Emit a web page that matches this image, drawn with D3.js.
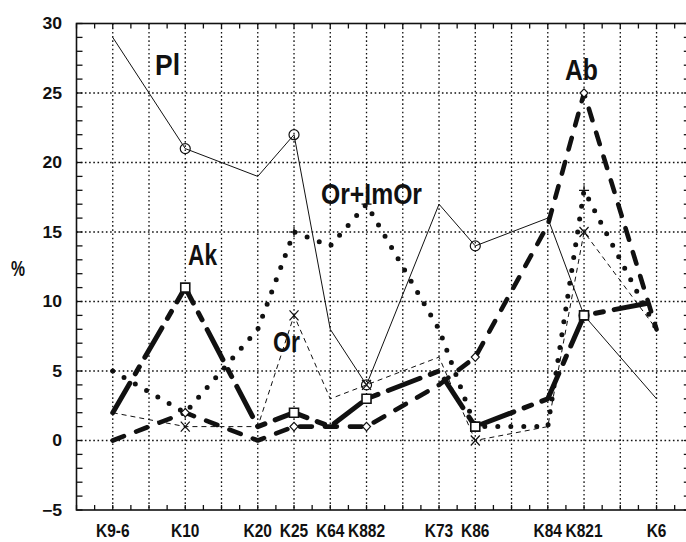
<!DOCTYPE html>
<html>
<head>
<meta charset="utf-8">
<script src="https://cdn.jsdelivr.net/npm/d3@7"></script>
<style>
  body { margin: 0; background: #fff; }
  svg { display: block; }
  text { font-family: "Liberation Sans", Arial, sans-serif; font-weight: bold; fill: #111; }
</style>
</head>
<body>
<div id="chart"></div>
<script>
// samples along the section and where they sit on the x axis
const categories = ["K9-6", "K10", "K20", "K25", "K64", "K882", "K73", "K86", "K84", "K821", "K6"];
const positions = [1, 3, 5, 6, 7, 8, 10, 11, 13, 14, 16];

// mineral content (%) per sample
const plValues = [29, 21, 19, 22, 8, 4, 17, 14, 16, 9, 3];
const akValues = [2, 11, 1, 2, 1, 3, 5, 1, 3, 9, 10];
const abValues = [0, 2, 0, 1, 1, 1, 4, 6, 15.5, 25, 8];
const orValues = [2, 1, 1, 9, 3, 4, 6, 0, 1, 15, 8];
const orImOrValues = [5, 2, 8, 15, 14, 17, 8, 1, 1, 18, 8];

// samples that carry a point marker
const markedSamples = ["K10", "K25", "K882", "K86", "K821"];

const yTicks = [-5, 0, 5, 10, 15, 20, 25, 30];

const width = 686;
const height = 542;

const svg = d3.select("#chart")
  .append("svg")
  .attr("width", width)
  .attr("height", height);

// scales
const x = d3.scaleLinear().domain([0, 17]).range([76.5, 692.8]);
const y = d3.scaleLinear().domain([-5, 30]).range([510, 23.5]);

const ink = "#111";

// dotted grid
const grid = svg.append("g")
  .attr("stroke", ink)
  .attr("stroke-width", 1.3)
  .attr("stroke-dasharray", "1.6,2.6");

grid.selectAll("line.v")
  .data(d3.range(1, 17))
  .enter().append("line")
  .attr("class", "v")
  .attr("x1", d => x(d)).attr("x2", d => x(d))
  .attr("y1", y(30)).attr("y2", y(-5));

grid.selectAll("line.h")
  .data(yTicks.filter(d => d > -5 && d < 30))
  .enter().append("line")
  .attr("class", "h")
  .attr("x1", x(0)).attr("x2", x(17))
  .attr("y1", d => y(d)).attr("y2", d => y(d));

// frame
svg.append("rect")
  .attr("x", x(0)).attr("y", y(30))
  .attr("width", x(17) - x(0)).attr("height", y(-5) - y(30))
  .attr("fill", "none")
  .attr("stroke", ink)
  .attr("stroke-width", 1.6);

// small inward ticks
const ticks = svg.append("g").attr("stroke", ink).attr("stroke-width", 1.3);
const unitTicks = d3.range(-5, 31);
const halfTicks = d3.range(0, 17.01, 0.5);

ticks.selectAll("line.l").data(unitTicks).enter().append("line")
  .attr("x1", x(0)).attr("x2", x(0) + 6)
  .attr("y1", d => y(d)).attr("y2", d => y(d));

ticks.selectAll("line.r").data(unitTicks).enter().append("line")
  .attr("x1", x(17)).attr("x2", x(17) - 9)
  .attr("y1", d => y(d)).attr("y2", d => y(d));

ticks.selectAll("line.b").data(halfTicks).enter().append("line")
  .attr("x1", d => x(d)).attr("x2", d => x(d))
  .attr("y1", y(-5)).attr("y2", y(-5) - 5);

ticks.selectAll("line.t").data(halfTicks).enter().append("line")
  .attr("x1", d => x(d)).attr("x2", d => x(d))
  .attr("y1", y(30)).attr("y2", y(30) + 5);

// squeeze a text to a share of its natural width
function squeeze(sel, factor) {
  sel.each(function() {
    const len = this.getComputedTextLength();
    d3.select(this).attr("textLength", len * factor).attr("lengthAdjust", "spacingAndGlyphs");
  });
}

// y tick labels
svg.append("g").selectAll("text")
  .data(yTicks)
  .enter().append("text")
  .attr("x", 62)
  .attr("y", d => y(d))
  .attr("dy", "0.36em")
  .attr("text-anchor", "end")
  .style("font-size", "16px")
  .text(d3.format("d"))
  .call(squeeze, 1.1);

// x labels
svg.append("g").selectAll("text")
  .data(categories)
  .enter().append("text")
  .attr("x", (d, i) => x(positions[i]))
  .attr("y", 537)
  .attr("text-anchor", "middle")
  .style("font-size", "18px")
  .text(d => d)
  .call(squeeze, 0.86);

// unit label
svg.append("text")
  .attr("x", 11).attr("y", 276)
  .style("font-size", "22px")
  .attr("textLength", 14).attr("lengthAdjust", "spacingAndGlyphs")
  .text("%");

// series styles
const series = [
  {name: "Pl", values: plValues, width: 1, dash: null, cap: "butt", marker: "circle"},
  {name: "Or", values: orValues, width: 1, dash: "5,4", cap: "butt", marker: "times"},
  {name: "Or+ImOr", values: orImOrValues, width: 5, dash: "0,13", cap: "round", marker: "plus"},
  {name: "Ab", values: abValues, width: 4.6, dash: "12,13", cap: "round", marker: "diamond"},
  {name: "Ak", values: akValues, width: 5, dash: "34,11,8,11", cap: "round", marker: "square"}
];

const line = d3.line()
  .x((d, i) => x(positions[i]))
  .y(d => y(d));

svg.append("g").selectAll("path")
  .data(series)
  .enter().append("path")
  .attr("d", d => line(d.values))
  .attr("fill", "none")
  .attr("stroke", ink)
  .attr("stroke-width", d => d.width)
  .attr("stroke-dasharray", d => d.dash)
  .attr("stroke-linecap", d => d.cap)
  .attr("stroke-linejoin", "round");

// marker shapes around (0,0)
function markerPath(type) {
  const p = d3.path();
  if (type === "circle") {
    p.moveTo(5, 0); p.arc(0, 0, 5, 0, 2 * Math.PI);
  } else if (type === "square") {
    p.rect(-4.5, -4.5, 9, 9);
  } else if (type === "diamond") {
    p.moveTo(0, -4.2); p.lineTo(4, 0); p.lineTo(0, 4.2); p.lineTo(-4, 0); p.closePath();
  } else if (type === "times") {
    p.moveTo(-4.5, -5); p.lineTo(4.5, 5); p.moveTo(-4.5, 5); p.lineTo(4.5, -5);
  } else if (type === "plus") {
    p.moveTo(-5, 0); p.lineTo(5, 0); p.moveTo(0, -5); p.lineTo(0, 5);
  }
  return p.toString();
}

series.forEach(s => {
  const pts = categories
    .map((c, i) => ({c: c, pos: positions[i], v: s.values[i]}))
    .filter(d => markedSamples.includes(d.c));
  svg.append("g").selectAll("path")
    .data(pts)
    .enter().append("path")
    .attr("transform", d => "translate(" + x(d.pos) + "," + y(d.v) + ")")
    .attr("d", markerPath(s.marker))
    .attr("fill", (s.marker === "square" || s.marker === "diamond") ? "#fff" : "none")
    .attr("stroke", ink)
    .attr("stroke-width", s.marker === "square" ? 1.6 : 1.2);
});

// series names written on the plot
const annotations = [
  {text: "Pl", left: 155, base: 75, w: 25},
  {text: "Ab", left: 565, base: 80, w: 33},
  {text: "Ak", left: 188, base: 265, w: 29},
  {text: "Or+ImOr", left: 321, base: 204, w: 101},
  {text: "Or", left: 273, base: 352, w: 27}
];

svg.append("g").selectAll("text")
  .data(annotations)
  .enter().append("text")
  .attr("x", d => d.left)
  .attr("y", d => d.base)
  .style("font-size", "30px")
  .attr("textLength", d => d.w)
  .attr("lengthAdjust", "spacingAndGlyphs")
  .text(d => d.text);
</script>
</body>
</html>
